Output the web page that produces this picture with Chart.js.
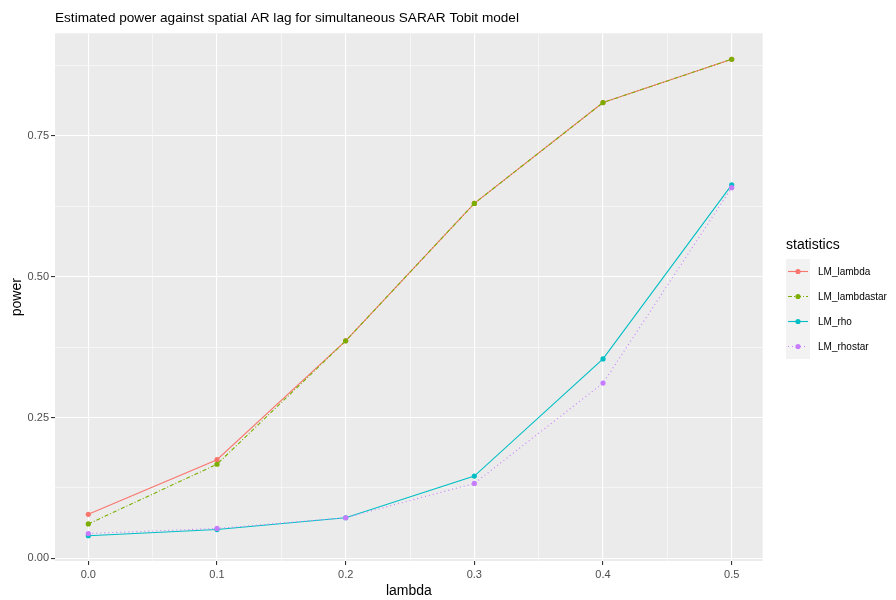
<!DOCTYPE html>
<html><head><meta charset="utf-8">
<script src="https://cdn.jsdelivr.net/npm/chart.js@4"></script>
<style>
html,body{margin:0;padding:0;background:#fff;}
#wrap{position:relative;width:896px;height:600px;}
#c{position:absolute;left:0;top:0;}
.lg{position:absolute;font-family:'Liberation Sans',Arial,sans-serif;color:#000;white-space:nowrap;}
</style></head><body>
<div id="wrap"><canvas id="c" width="896" height="600"></canvas><div id="legend"></div></div>
<script>
const lambdaValues = [0.0, 0.1, 0.2, 0.3, 0.4, 0.5];
const seriesNames = ['LM_lambda', 'LM_lambdastar', 'LM_rho', 'LM_rhostar'];
const lmLambda     = [0.078, 0.175, 0.386, 0.630, 0.809, 0.886];
const lmLambdastar = [0.061, 0.167, 0.386, 0.630, 0.809, 0.886];
const lmRho        = [0.040, 0.051, 0.072, 0.146, 0.354, 0.663];
const lmRhostar    = [0.044, 0.053, 0.072, 0.133, 0.311, 0.658];
const xMajorTicks = [0.0, 0.1, 0.2, 0.3, 0.4, 0.5];
const xTickLabels = ['0.0', '0.1', '0.2', '0.3', '0.4', '0.5'];
const xMinorTicks = [0.05, 0.15, 0.25, 0.35, 0.45];
const yMajorTicks = [0.0, 0.25, 0.5, 0.75];
const yTickLabels = ['0.00', '0.25', '0.50', '0.75'];
const yMinorTicks = [0.125, 0.375, 0.625, 0.875];

const colors = ['#F8766D', '#7CAE00', '#00BFC4', '#C77CFF'];
const dashes = [[], [4, 2, 1, 2], [], [1, 3]];
const seriesValues = [lmLambda, lmLambdastar, lmRho, lmRhostar];
const FONT = "'Liberation Sans', Arial, sans-serif";

function isMajor(list, v) { return list.some(t => Math.abs(t - v) < 1e-9); }
function labelFor(list, labels, v) {
  const i = list.findIndex(t => Math.abs(t - v) < 1e-9);
  return i >= 0 ? labels[i] : '';
}

const datasets = seriesNames.map((name, i) => ({
  label: name,
  data: lambdaValues.map((x, j) => ({x: x, y: seriesValues[i][j]})),
  borderColor: colors[i],
  backgroundColor: colors[i],
  borderWidth: 1.1,
  borderDash: dashes[i],
  pointRadius: 2.6,
  pointHoverRadius: 2.6,
  pointBorderWidth: 0,
  pointBackgroundColor: colors[i],
  tension: 0,
  fill: false,
  order: 4 - i
}));

const panelBg = {
  id: 'panelBg',
  beforeDraw(chart) {
    const a = chart.chartArea, ctx = chart.ctx;
    ctx.save();
    ctx.fillStyle = '#EBEBEB';
    ctx.fillRect(a.left, a.top, a.right - a.left, a.bottom - a.top);
    ctx.restore();
  }
};

new Chart(document.getElementById('c'), {
  type: 'line',
  data: { datasets: datasets },
  plugins: [panelBg],
  options: {
    responsive: false,
    animation: false,
    events: [],
    layout: { padding: { left: 0, right: 133.3, top: 0, bottom: 0 } },
    plugins: {
      legend: { display: false },
      tooltip: { enabled: false },
      title: {
        display: true,
        text: 'Estimated power against spatial AR lag for simultaneous SARAR Tobit model',
        align: 'start',
        fullSize: false,
        color: '#000',
        font: { family: FONT, size: 13.6, weight: 'normal', lineHeight: 1.2 },
        padding: { top: 10, bottom: 7 }
      }
    },
    scales: {
      x: {
        type: 'linear',
        min: -0.0259, max: 0.5241,
        afterBuildTicks: s => { s.ticks = xMajorTicks.concat(xMinorTicks).sort((a, b) => a - b).map(v => ({value: v})); },
        afterFit: s => { s.height = 39; },
        border: { display: false },
        grid: {
          color: '#FFFFFF',
          lineWidth: c => isMajor(xMajorTicks, c.tick.value) ? 1.1 : 0.55,
          tickColor: c => isMajor(xMajorTicks, c.tick.value) ? '#333333' : 'rgba(0,0,0,0)',
          tickWidth: 1.1,
          tickLength: 4,
          drawTicks: true
        },
        ticks: {
          autoSkip: false, maxRotation: 0, color: '#4D4D4D', padding: 3,
          font: { family: FONT, size: 11 },
          callback: v => labelFor(xMajorTicks, xTickLabels, v)
        },
        title: { display: true, text: 'lambda', color: '#000', font: { family: FONT, size: 14 }, padding: { top: 0, bottom: 0 } }
      },
      y: {
        type: 'linear',
        min: -0.0048, max: 0.932,
        afterBuildTicks: s => { s.ticks = yMajorTicks.concat(yMinorTicks).sort((a, b) => a - b).map(v => ({value: v})); },
        afterFit: s => { s.width = 55; },
        border: { display: false },
        grid: {
          color: '#FFFFFF',
          lineWidth: c => isMajor(yMajorTicks, c.tick.value) ? 1.1 : 0.55,
          tickColor: c => isMajor(yMajorTicks, c.tick.value) ? '#333333' : 'rgba(0,0,0,0)',
          tickWidth: 1.1,
          tickLength: 4,
          drawTicks: true
        },
        ticks: {
          autoSkip: false, color: '#4D4D4D', padding: 2,
          font: { family: FONT, size: 11 },
          callback: v => labelFor(yMajorTicks, yTickLabels, v)
        },
        title: { display: true, text: 'power', color: '#000', font: { family: FONT, size: 14 }, padding: { top: 9, bottom: 0 } }
      }
    }
  }
});

// legend (ggplot-style guide)
const legend = document.getElementById('legend');
const lgTitle = document.createElement('div');
lgTitle.className = 'lg';
lgTitle.style.left = '786px'; lgTitle.style.top = '236px'; lgTitle.style.fontSize = '14px';
lgTitle.textContent = 'statistics';
legend.appendChild(lgTitle);
seriesNames.forEach((name, i) => {
  const cy = 271.7 + i * 25;
  const key = document.createElementNS('http://www.w3.org/2000/svg', 'svg');
  key.setAttribute('width', '24'); key.setAttribute('height', '25');
  key.style.position = 'absolute'; key.style.left = '786px'; key.style.top = (cy - 12.5) + 'px';
  const dash = dashes[i].length ? dashes[i].join(',') : 'none';
  key.innerHTML = '<rect x="0" y="0" width="24" height="25" fill="#F2F2F2"/>' +
    '<line x1="2" y1="12.5" x2="22" y2="12.5" stroke="' + colors[i] + '" stroke-width="1.1" stroke-dasharray="' + dash + '"/>' +
    '<circle cx="12" cy="12.5" r="2.6" fill="' + colors[i] + '"/>';
  legend.appendChild(key);
  const t = document.createElement('div');
  t.className = 'lg';
  t.style.left = '818px'; t.style.top = (cy - 6) + 'px'; t.style.fontSize = '10px'; t.style.lineHeight = '12px';
  t.textContent = name;
  legend.appendChild(t);
});
</script>
</body></html>
